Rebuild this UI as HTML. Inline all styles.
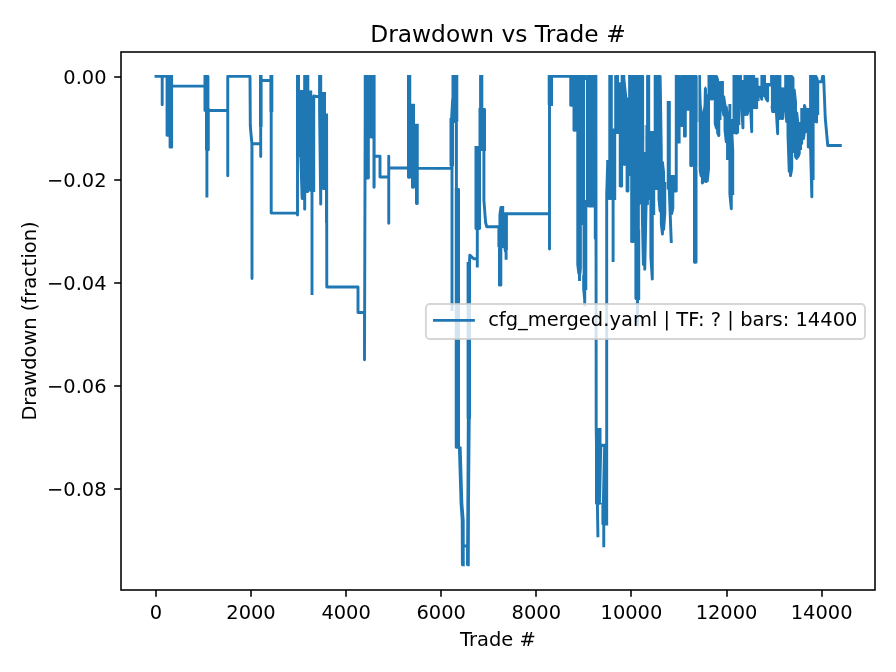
<!DOCTYPE html>
<html lang="en"><head><meta charset="utf-8"><title>Drawdown vs Trade #</title>
<style>html,body{margin:0;padding:0;background:#fff}body{width:896px;height:672px;overflow:hidden}svg{display:block;will-change:transform}text{font-family:'DejaVu Sans', 'Liberation Sans', sans-serif;fill:#000}</style></head><body>
<svg width="896" height="672" viewBox="0 0 896 672">
<defs><clipPath id="axclip"><rect x="121" y="52" width="754" height="538"/></clipPath></defs>
<rect width="896" height="672" fill="#fff"/>
<line x1="156" y1="590" x2="156" y2="596.81" stroke="#000" stroke-width="1.56"/>
<text x="155.9" y="618.9" font-size="19.44" text-anchor="middle">0</text>
<line x1="251" y1="590" x2="251" y2="596.81" stroke="#000" stroke-width="1.56"/>
<text x="251.01" y="618.9" font-size="19.44" text-anchor="middle">2000</text>
<line x1="346" y1="590" x2="346" y2="596.81" stroke="#000" stroke-width="1.56"/>
<text x="346.12" y="618.9" font-size="19.44" text-anchor="middle">4000</text>
<line x1="441" y1="590" x2="441" y2="596.81" stroke="#000" stroke-width="1.56"/>
<text x="441.23" y="618.9" font-size="19.44" text-anchor="middle">6000</text>
<line x1="536" y1="590" x2="536" y2="596.81" stroke="#000" stroke-width="1.56"/>
<text x="536.34" y="618.9" font-size="19.44" text-anchor="middle">8000</text>
<line x1="631" y1="590" x2="631" y2="596.81" stroke="#000" stroke-width="1.56"/>
<text x="631.45" y="618.9" font-size="19.44" text-anchor="middle">10000</text>
<line x1="727" y1="590" x2="727" y2="596.81" stroke="#000" stroke-width="1.56"/>
<text x="726.56" y="618.9" font-size="19.44" text-anchor="middle">12000</text>
<line x1="822" y1="590" x2="822" y2="596.81" stroke="#000" stroke-width="1.56"/>
<text x="821.67" y="618.9" font-size="19.44" text-anchor="middle">14000</text>
<text x="497.94" y="645.89" font-size="19.44" text-anchor="middle">Trade #</text>
<line x1="114.19" y1="77" x2="121" y2="77" stroke="#000" stroke-width="1.56"/>
<text x="106.58" y="84.39" font-size="19.44" text-anchor="end">0.00</text>
<line x1="114.19" y1="180" x2="121" y2="180" stroke="#000" stroke-width="1.56"/>
<text x="106.58" y="187.39" font-size="19.44" text-anchor="end">−0.02</text>
<line x1="114.19" y1="283" x2="121" y2="283" stroke="#000" stroke-width="1.56"/>
<text x="106.58" y="290.39" font-size="19.44" text-anchor="end">−0.04</text>
<line x1="114.19" y1="386" x2="121" y2="386" stroke="#000" stroke-width="1.56"/>
<text x="106.58" y="393.39" font-size="19.44" text-anchor="end">−0.06</text>
<line x1="114.19" y1="489" x2="121" y2="489" stroke="#000" stroke-width="1.56"/>
<text x="106.58" y="496.39" font-size="19.44" text-anchor="end">−0.08</text>
<text transform="translate(35.87 321) rotate(-90)" font-size="19.44" text-anchor="middle">Drawdown (fraction)</text>
<path clip-path="url(#axclip)" fill="none" stroke="#1f77b4" stroke-width="2.92" stroke-linejoin="round" stroke-linecap="square" d="M156 76.35H162.2V104.7V76.35H167
M167.06 76.35V135.29H167.94V76.35
M170.06 76.35V147.14H171.64V76.35
M171.6 86.1H205
M204.96 76.35V110.54H206.45V76.35H207.94V110.54
M206.46 109.46V149.79H208.29V109.46
M206.9 151.46V196.04
M208 110.5H227.75V175.8V76.35H250L250.3 126L251.9 143.75L252 278.5V143.75H260.7V156.5V76.35V80.5H271.2V76.35V213.1H297.5V215V76.35
M270.86 76.35V111.54H271.84V76.35
M260.46 76.35V126.54H261.14V76.35
M300.76 91.36V155.54L302.14 198.54V91.36
M304.66 76.35V209.14H304.74V76.35
M306.96 76.35V191.54H307.84V76.35
M297.46 76.35V155.54H298.54V76.35
M310.76 91.96V190.54H312.25V98.87L313.74 96.06V190.54
M312 151.46V293.54
M314.5 96.2L319 96.8
M319.56 76.35V110.54L320.74 204.14V76.35
M323.46 93.46V188.54H324.54V93.46
M326.46 115.46V222.54H326.54V115.46
M326.6 115L326.8 287H358V312.5H364.5V359.8L365.3 76.35
M365.21 76.35V178.54H366.04V76.35
M368.35 76.35V177.94V177.94V76.35
M370.96 76.35V137.04H371.54V76.35
M373.96 76.35V187.29H374.14V76.35
M374.5 156.25H380V177H388.75V156.25V223.2V168H408
M408.46 76.35V177.29H409.79V76.35
M412.46 105.21V187.29H413.54V105.21
M416.46 125.21V203.54H417.29V125.21
M418 168.2L437 168.4
M436 168.4H450.6
M452.96 76.35V121.54H454.25V76.35H455.55V121.54H456.84V76.35
M452.6 100L451.3 124L452 165V309.5
M450.96 119.46V165.54H452.64V119.46
M456.4 100V190
M456.21 189.46V447.29H457.38V189.46H458.54V447.29
M459.4 448L461.1 504L462.2 520L462.4 564.8V546H467.5V564.8L468.3 420V267L469.5 262L469.8 255.2L473.75 258.75H477.3
M460.2 448L461.9 504L463.2 520L463.3 564.8
M468.3 564.8L468.5 504L469.2 420
M468.06 263.46V418.54H469.54V263.46
M480.56 76.35V110.54H481.84V76.35
M479.96 109.46V149.54H481.11V109.46H482.25V149.54H483.39V109.46H484.54V149.54
M475.96 147.46V228.54H477.15V147.46H478.35V228.54H479.54V147.46
M477.3 229.46V266.04
M483.9 150V200L485.6 222.5L486.8 226.8H497.5
M498.86 226.76V246.54H499.9V214.66L500.94 207.46V246.54
M499.46 245.46V285.14H500.84V245.46
M502.75 207.46V246.54V246.54V214.36
M504.46 214.36V244.54L505.45 251.35V214.36H506.44V248.54
M506.1 247.46V258.29
M503 213.75H549.5V249V76.35H570.7
M549.16 76.35V104.54H550.35V76.35H551.54V104.54
M570.71 76.35V105.29H571.44V76.35
M573.96 76.35V130.29H575.24V76.35
M577.76 76.35V264.54L578.82 273.44V76.35H579.88V274.36L580.94 264.54V76.35
M583.66 76.35V288.54L584.75 300.38V76.35H585.84V288.54
M584.7 289.46V304.84
M579.5 263.46V279.54
M588.46 76.35V206.04H589.89V76.35H591.31V206.04H592.74V76.35
M595.26 76.35V238.54H595.74V76.35
M595.9 76.35L596.2 428L597.9 535.8
M596.46 429.46V503.29H597.65V429.46H598.85V503.29H600.04V429.46
M602.86 445.21V523.94H603.95V445.21H605.05V523.94H606.14V445.21
M603.75 521.46V545.79
M607.6 165L606.7 195V524
M609.76 76.35V198.54H611V76.35H612.25V198.54H613.5V76.35H614.74V198.54
M607.66 161.46V198.54H608.54V161.46
M613.1 199.46V260.44
M617.26 76.35V132.54H617.74V76.35
M620.21 76.35V186.04H621.64V76.35
M624.26 76.35V164.54H624.44V76.35
M627.06 76.35V191.04H627.94V76.35
M630 76.35V174.54V174.54V76.35
M631.66 76.35V241.64H633.14V76.35
M635.86 76.35V298.54H637.3V76.35H638.74V298.54
M639.46 76.35V202.54H640.5V76.35H641.54V202.54
M637.5 299.46V324.54
M642.06 76.35V203.54L643.4 264.46V76.35L644.75 82.46V269.31L646.1 203.54V82.46L647.44 76.35V203.54
M647.96 76.35V198.54H648.74V76.35
M650.86 132.46V256.54L652.3 279.07V132.46H653.74V213.54
M655.16 76.35V188.54H656.49V76.35H657.81V188.54H659.14V76.35
M658.96 76.35V198.54L660.13 211.04V76.35L661.29 152.06V223.54L662.46 234.04V162.53L663.62 172.99V229.45L664.79 213.54V183.46
M668.21 102.46V188.54H669.34V102.46
M669.2 188L671.25 241.6
M676.25 76.35V191.04V191.04V76.35
M671.76 176.46V213.54L672.85 207.92V176.46H673.94V191.04
M676.36 76.35V142.04H677.75V76.35H679.14V142.04
M681.85 76.35V125.79V125.79V76.35
M684.46 76.35V136.14H685.34V76.35
M687.96 76.35V109.54H688.14V76.35
M690.71 76.35V165.54H692.09V76.35H693.48V165.54H694.86V76.35H696.24V165.54
M694.46 166.46V262.29H696.04V166.46
M699.86 76.35V168.54L701.1 175.77V76.35H702.34V183.01L703.58 180.9V76.35H704.82V170.73L706.06 181.67V76.35H707.3V180.8L708.54 168.54V76.35
M711.06 76.35V99.04H712.54V76.35
M715.21 76.35V123.54L716.42 128.17V76.35L717.62 79.78V132.8L718.83 135.61V85.46L720.04 82.46V118.54
M722.46 82.46V107.54L723.73 115.04V96.78L725 105.38V130.04L726.27 141.83V106.96L727.54 117.46V158.54
M729.86 105.46V193.54L731.3 208.68V120.23L732.74 150.46V193.54
M733.96 76.35V132.54L735.18 132.85V76.35H736.4V133.17L737.62 132.32V76.35H738.84V123.54
M741.46 76.35V103.54L742.95 127.88V76.35H744.44V114.54
M747.06 76.35V114.54L748.14 110.54V76.35
M750.76 76.35V110.54L751.7 131.78V76.35H752.64V107.54
M755.21 76.35V107.54L756.67 107.75V76.35H758.14V99.54
M760.76 76.35V95.54L761.7 99.23V76.35H762.64V95.54
M765.21 76.35V95.54L766.42 99.41V76.35H767.63V100.94L768.84 98.54V76.35
M771.46 76.35V101.54L772.65 111.54V76.35H773.84V111.54
M776.46 76.35V113.54L777.65 133.68V76.35H778.84V118.54
M781.46 76.35V118.54H782.74V76.35
M785.46 76.35V108.54L786.72 121.54V76.35H787.97V134.54L789.23 171.35V76.35H790.49V175.65L791.74 168.54V76.35L793 78.31V151.54H794.26V90.05L795.51 101.8V156.54L796.77 158.34V112.95L798.03 125.23V156.78L799.28 153.54V139.65L800.54 144.46V148.54
M800.46 123.46V143.54H801.74V109.46
M803.46 109.46V138.54L804.5 131.81V105.56L805.54 109.46V131.54
M808.26 109.46V147.04H808.34V109.46
M810.56 76.35V148.54L811.85 196.87V76.35H813.14V178.54
M815.46 76.35V121.54L816.6 121.96V77.43L817.74 81.76V113.54
M818 81.75H821.8L822.5 76.35H823.6L825.25 118L827.75 145.5H840.3"/>
<path clip-path="url(#axclip)" fill="none" stroke="#fff" stroke-width="0.7" d="M582.3 225V275"/>
<path clip-path="url(#axclip)" fill="none" stroke="#fff" stroke-width="0.9" d="M585.5 80V200"/>
<path clip-path="url(#axclip)" fill="none" stroke="#fff" stroke-width="0.9" d="M602.7 447L601.4 503"/>
<path clip-path="url(#axclip)" fill="none" stroke="#fff" stroke-width="1.4" d="M613.5 73V128.5"/>
<path clip-path="url(#axclip)" fill="none" stroke="#fff" stroke-width="1.7" d="M619.8 73V82.3"/>
<path clip-path="url(#axclip)" fill="none" stroke="#fff" stroke-width="0.8" d="M610.25 200V222"/>
<path clip-path="url(#axclip)" fill="none" stroke="#fff" stroke-width="0.8" d="M640.3 205V230"/>
<path clip-path="url(#axclip)" fill="none" stroke="#fff" stroke-width="2" d="M645.1 73V125"/>
<path clip-path="url(#axclip)" fill="none" stroke="#fff" stroke-width="1.1" d="M644.9 124L644.8 152"/>
<path clip-path="url(#axclip)" fill="none" stroke="#fff" stroke-width="0.8" d="M698.1 122V170"/>
<path clip-path="url(#axclip)" fill="none" stroke="#fff" stroke-width="1.5" d="M742.7 73V80"/>
<path clip-path="url(#axclip)" fill="none" stroke="#fff" stroke-width="1.8" d="M770 86.5V106"/>
<path clip-path="url(#axclip)" fill="#fff" stroke="none" d="M625.25 73H628.1V97.4H627.3L625.25 78Z"/>
<path clip-path="url(#axclip)" fill="#fff" stroke="none" d="M700.9 73H707.5V94H707L706.9 88.5L705.4 86L703.9 88.5L703.6 105L702.6 112L701.7 105L701.2 90Z"/>
<path clip-path="url(#axclip)" fill="#fff" stroke="none" d="M755.1 73H760.4V85.8H758.6L758.5 77.7H755.1Z"/>
<path clip-path="url(#axclip)" fill="#fff" stroke="none" d="M766 73H770.1V83H766Z"/>
<path clip-path="url(#axclip)" fill="#fff" stroke="none" d="M781.4 73H784.2V87.4H781.4Z"/>
<rect x="121" y="52" width="754" height="538" fill="none" stroke="#000" stroke-width="1.56"/>
<text x="497.94" y="41.5" font-size="23.33" text-anchor="middle">Drawdown vs Trade #</text>
<rect x="425.92" y="304.04" width="439.05" height="35" rx="3.89" ry="3.89" fill="#fff" fill-opacity="0.8" stroke="#ccc" stroke-opacity="0.8" stroke-width="1.94"/>
<line x1="434.5" y1="320.37" x2="473.39" y2="320.37" stroke="#1f77b4" stroke-width="2.92" stroke-linecap="square"/>
<text x="488.15" y="325.78" font-size="19.44" textLength="369.3" lengthAdjust="spacing">cfg_merged.yaml | TF: ? | bars: 14400</text>
</svg></body></html>
